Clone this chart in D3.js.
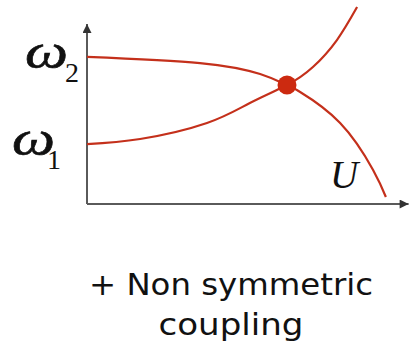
<!DOCTYPE html>
<html>
<head>
<meta charset="utf-8">
<script src="https://cdn.jsdelivr.net/npm/d3@7"></script>
<style>
  html, body { margin: 0; padding: 0; background: #fff; }
  svg { display: block; }
</style>
</head>
<body>
<svg id="chart" width="410" height="353"></svg>
<script>
// Upper mode: starts flat at ω2 and bends down towards U axis
const upperU = [0, 3.53, 5.41, 6.25, 6.66, 7.91, 8.94, 9.34];
const upperW = [8.17, 7.83, 7.22, 6.61, 6.22, 4.5, 1.89, 0.39];
// Lower mode: starts at ω1 and rises steeply past the crossing
const lowerU = [0, 1.66, 3.75, 5.09, 6.25, 7.06, 7.81, 8.44];
const lowerW = [3.33, 3.61, 4.5, 5.61, 6.61, 7.61, 9.11, 10.94];
// Crossing point of the two modes
const crossU = [6.25];
const crossW = [6.61];
// Axis labels
const yLabels = [{ base: "ω", sub: "2", value: 8.17 }, { base: "ω", sub: "1", value: 3.33 }];
const xLabel = "U";
const captionLines = ["+ Non symmetric", "coupling"];

const svg = d3.select("#chart");
const x = d3.scaleLinear().domain([0, 10]).range([87, 407]);
const y = d3.scaleLinear().domain([0, 10]).range([204, 24]);

const red = "#c4301b";
const axisColor = "#5a5a5a";

// Arrowheads
const defs = svg.append("defs");
defs.append("marker")
  .attr("id", "arrow")
  .attr("viewBox", "0 0 10 10")
  .attr("refX", 10).attr("refY", 5)
  .attr("markerWidth", 5).attr("markerHeight", 4.5)
  .attr("markerUnits", "strokeWidth")
  .attr("orient", "auto")
  .append("path")
  .attr("d", "M0,0 L10,5 L0,10 Z")
  .attr("fill", "#333");

// Axes
svg.append("line")
  .attr("x1", x(0)).attr("y1", y(0))
  .attr("x2", x(0)).attr("y2", y(10))
  .attr("stroke", axisColor).attr("stroke-width", 2)
  .attr("marker-end", "url(#arrow)");
svg.append("line")
  .attr("x1", x(0)).attr("y1", y(0))
  .attr("x2", x(10.05)).attr("y2", y(0))
  .attr("stroke", axisColor).attr("stroke-width", 2)
  .attr("marker-end", "url(#arrow)");

// Curves
const line = d3.line()
  .x(d => x(d[0]))
  .y(d => y(d[1]))
  .curve(d3.curveNatural);

svg.append("path")
  .datum(d3.zip(upperU, upperW))
  .attr("d", line)
  .attr("fill", "none")
  .attr("stroke", red)
  .attr("stroke-width", 2.2);

svg.append("path")
  .datum(d3.zip(lowerU, lowerW))
  .attr("d", line)
  .attr("fill", "none")
  .attr("stroke", red)
  .attr("stroke-width", 2.2);

svg.selectAll("circle.cross")
  .data(d3.zip(crossU, crossW))
  .join("circle")
  .attr("class", "cross")
  .attr("cx", d => x(d[0]))
  .attr("cy", d => y(d[1]))
  .attr("r", 9.5)
  .attr("fill", "#cc2a10");

// Y labels ω2, ω1
const yl = svg.selectAll("g.ylab")
  .data(yLabels)
  .join("g")
  .attr("class", "ylab");

yl.append("text")
  .attr("x", (d, i) => i === 0 ? 25 : 12)
  .attr("y", d => y(d.value) + 11)
  .attr("font-family", "Liberation Serif, serif")
  .attr("font-style", "italic")
  .attr("font-size", 48)
  .attr("textLength", 43)
  .attr("lengthAdjust", "spacingAndGlyphs")
  .attr("stroke", "#111")
  .attr("stroke-width", 0.6)
  .attr("fill", "#111")
  .text(d => d.base);

yl.append("text")
  .attr("x", (d, i) => i === 0 ? 65 : 47)
  .attr("y", d => y(d.value) + 25)
  .attr("font-family", "Liberation Serif, serif")
  .attr("font-size", 28)
  .attr("fill", "#111")
  .text(d => d.sub);

// X label
svg.append("text")
  .attr("x", 330)
  .attr("y", 188)
  .attr("font-family", "Liberation Serif, serif")
  .attr("font-style", "italic")
  .attr("font-size", 39)
  .attr("fill", "#111")
  .text(xLabel);

// Caption
svg.selectAll("text.caption")
  .data(captionLines)
  .join("text")
  .attr("class", "caption")
  .attr("x", 231)
  .attr("y", (d, i) => 295 + i * 40)
  .attr("text-anchor", "middle")
  .attr("font-family", "DejaVu Sans, sans-serif")
  .attr("font-size", 30)
  .attr("textLength", (d, i) => i === 0 ? 284 : 145)
  .attr("lengthAdjust", "spacingAndGlyphs")
  .attr("fill", "#111")
  .text(d => d);
</script>
</body>
</html>
